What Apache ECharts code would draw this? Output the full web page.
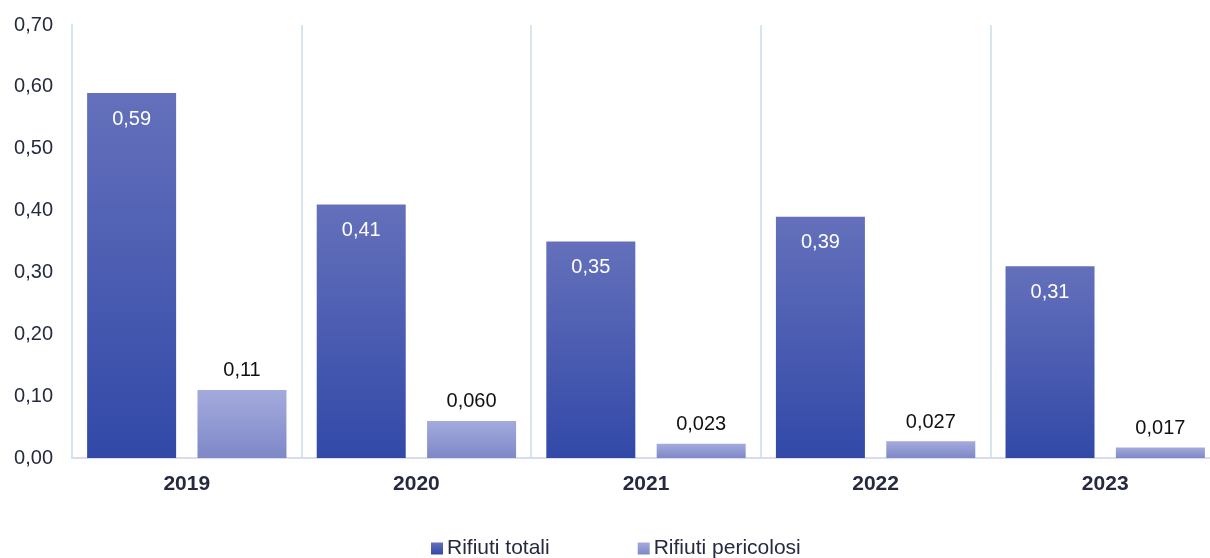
<!DOCTYPE html>
<html>
<head>
<meta charset="utf-8">
<script src="https://cdn.jsdelivr.net/npm/echarts@6/dist/echarts.min.js"></script>
<style>
  * { margin: 0; padding: 0; }
  #chart-container { width: 1210px; height: 558px; overflow: hidden; background: #fff; }
</style>
</head>
<body>
<div id="chart-container"></div>
<script>
  var years = ['2019', '2020', '2021', '2022', '2023']
  var rifiutiTotali = [0.59, 0.41, 0.35, 0.39, 0.31]
  var rifiutiPericolosi = [0.11, 0.060, 0.023, 0.027, 0.017]
  var seriesNames = ['Rifiuti totali', 'Rifiuti pericolosi']

  var fmt = function (v) {
    return Number(v).toPrecision(2).replace('.', ',')
  }

  var chartDom = document.getElementById('chart-container')
  var myChart = echarts.init(chartDom, null, { renderer: 'canvas' })

  var option = {
    animation: false,
    textStyle: { fontFamily: 'Liberation Sans, Arial, sans-serif' },
    grid: {
      left: 72,
      width: 1148,
      top: 25,
      bottom: 100,
      outerBoundsMode: 'none',
    },
    legend: {
      left: 431,
      top: 538,
      padding: 0,
      itemWidth: 12,
      itemHeight: 12,
      itemGap: 88,
      icon: 'rect',
      textStyle: { fontSize: 21, color: '#262a40', padding: [0, 0, 0, -1] },
      data: seriesNames,
    },
    xAxis: {
      type: 'category',
      data: years,
      axisLine: { lineStyle: { color: '#d9dcec', width: 2 } },
      axisTick: { show: false },
      splitLine: { show: true, interval: 0, lineStyle: { color: '#d6e6f0', width: 2 } },
      axisLabel: {
        fontSize: 21,
        fontWeight: 'bold',
        color: '#262a40',
        margin: 16,
      },
    },
    yAxis: {
      type: 'value',
      min: 0,
      max: 0.7,
      interval: 0.1,
      axisLine: { show: true, lineStyle: { color: '#d6e6f0', width: 2 } },
      axisTick: { show: false },
      splitLine: { show: false },
      axisLabel: {
        fontSize: 20,
        color: '#262a40',
        margin: 19,
        formatter: function (v) {
          return v.toFixed(2).replace('.', ',')
        },
      },
    },
    series: [
      {
        name: seriesNames[0],
        type: 'bar',
        data: rifiutiTotali,
        barWidth: 89,
        barGap: '24%',
        itemStyle: {
          color: new echarts.graphic.LinearGradient(0, 0, 0, 1, [
            { offset: 0, color: '#6470bb' },
            { offset: 1, color: '#3249a8' },
          ]),
        },
        label: {
          show: true,
          position: 'insideTop',
          distance: 16,
          fontSize: 20,
          color: '#ffffff',
          formatter: function (p) {
            return fmt(p.value)
          },
        },
      },
      {
        name: seriesNames[1],
        type: 'bar',
        data: rifiutiPericolosi,
        barWidth: 89,
        itemStyle: {
          color: new echarts.graphic.LinearGradient(0, 0, 0, 1, [
            { offset: 0, color: '#a3abdd' },
            { offset: 1, color: '#7f88c8' },
          ]),
        },
        label: {
          show: true,
          position: 'top',
          distance: 9,
          fontSize: 20,
          color: '#111111',
          formatter: function (p) {
            return fmt(p.value)
          },
        },
      },
    ],
  }

  myChart.setOption(option)
  window.addEventListener('resize', myChart.resize)
</script>
</body>
</html>
